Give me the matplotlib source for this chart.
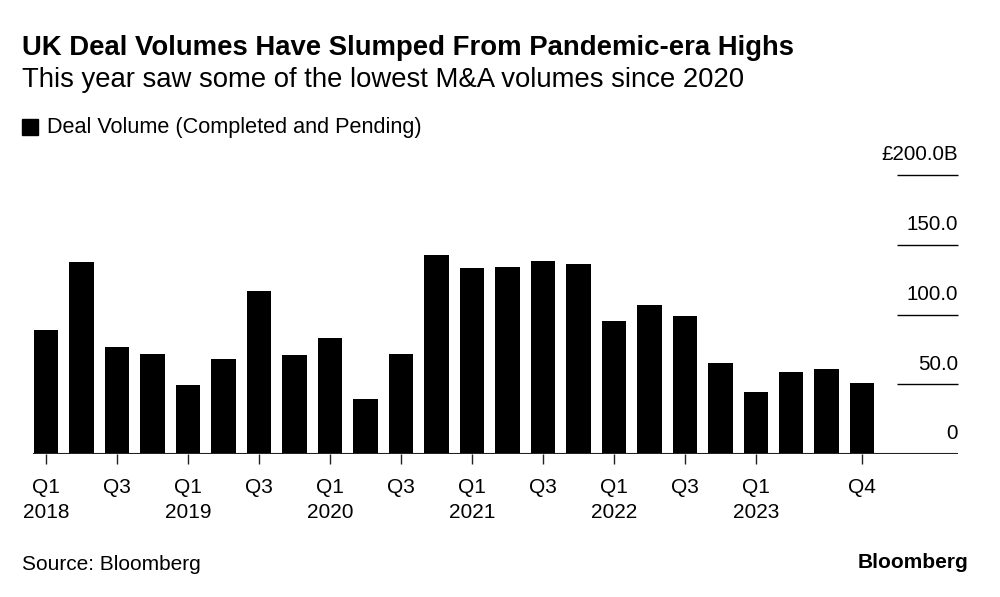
import numpy as np
import matplotlib
matplotlib.use("Agg")
import matplotlib.pyplot as plt

plt.rcParams['font.family'] = ['Liberation Sans', 'DejaVu Sans']

# quarterly UK deal volume, £ billions (Q1 2018 .. Q4 2023)
quarters = ["Q1", "Q2", "Q3", "Q4"] * 6
years = [2018, 2019, 2020, 2021, 2022, 2023]
volume = [89.1, 137.9, 76.7, 71.9,
          49.8, 67.9, 117.1, 71.2,
          83.3, 39.5, 71.6, 142.6,
          133.1, 134.3, 138.6, 136.2,
          95.2, 106.6, 98.8, 65.0,
          44.1, 58.6, 60.7, 50.7]
yticks = [0, 50, 100, 150, 200]
ytick_labels = ["0", "50.0", "100.0", "150.0", "£200.0B"]

fig = plt.figure(figsize=(10, 5.97), dpi=100)
ax = fig.add_axes([0.033, 1 - 454 / 597, 0.925, (454 - 175) / 597])

x = np.arange(len(volume))
ax.bar(x, volume, width=0.69, color="black", zorder=2)

xmin, xmax = -0.37, 25.7
ax.set_xlim(xmin, xmax)
ax.set_ylim(0, 200)

# gridlines only over the label column at right
grid_start = 23.98
for t, lab in zip(yticks, ytick_labels):
    if t > 0:
        ax.plot([grid_start, xmax], [t, t], color="black", lw=1.0,
                solid_capstyle="butt", clip_on=False)
    ax.annotate(lab, xy=(xmax, t), xycoords="data", xytext=(0, 14.5),
                textcoords="offset points", ha="right", va="center",
                fontsize=14.8, annotation_clip=False)

ax.axhline(0, color="#222222", lw=1.5, zorder=3)

# ticks: Q1 & Q3 of each year plus the final Q4
tick_idx = [i for i in range(len(volume)) if i % 2 == 0 and i < 22] + [23]
tick_lab = []
for i in tick_idx:
    q = quarters[i]
    if q == "Q1":
        tick_lab.append(f"{q}\n{years[i // 4]}")
    else:
        tick_lab.append(q)
ax.set_xticks(tick_idx)
ax.set_xticklabels(tick_lab, fontsize=15, linespacing=1.45, va="top")
ax.tick_params(axis="x", length=7, width=1, color="#222222", pad=10)
ax.set_yticks([])
for s in ax.spines.values():
    s.set_visible(False)

fig.text(0.022, 1 - 48 / 597, "UK Deal Volumes Have Slumped From Pandemic-era Highs",
         fontsize=19.8, fontweight="bold", va="center", ha="left")
fig.text(0.022, 1 - 80 / 597, "This year saw some of the lowest M&A volumes since 2020",
         fontsize=19.8, va="center", ha="left")
fig.patches.append(plt.Rectangle((0.022, 1 - 135 / 597), 0.016, 16 / 597,
                                 transform=fig.transFigure, color="black"))
fig.text(0.047, 1 - 127 / 597, "Deal Volume (Completed and Pending)",
         fontsize=15.6, va="center", ha="left")
fig.text(0.022, 1 - 565 / 597, "Source: Bloomberg", fontsize=15,
         va="center", ha="left")
fig.text(0.968, 1 - 563 / 597, "Bloomberg", fontsize=15, fontweight="bold",
         va="center", ha="right")

fig.savefig("out.png", dpi=100)
